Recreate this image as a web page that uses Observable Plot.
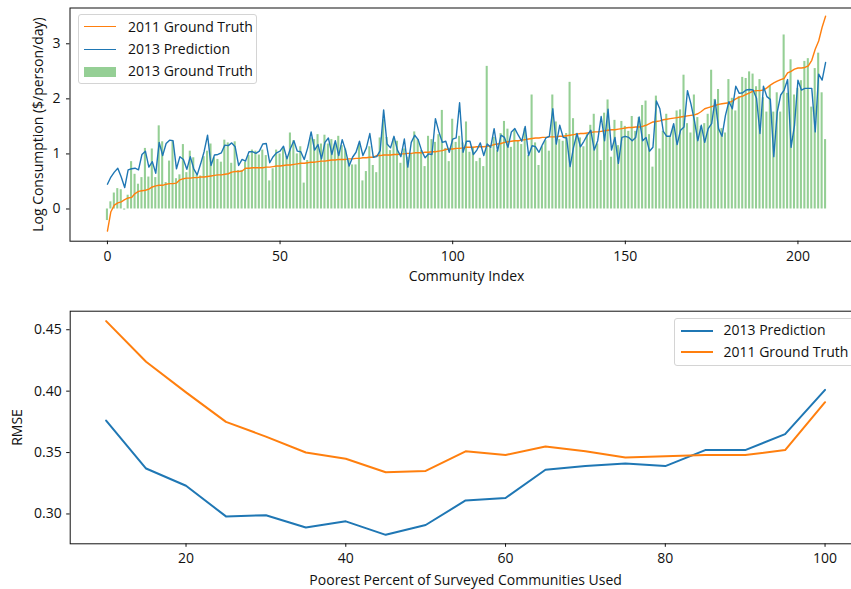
<!DOCTYPE html>
<html><head><meta charset="utf-8">
<script src="https://cdn.jsdelivr.net/npm/d3@7"></script>
<script src="https://cdn.jsdelivr.net/npm/@observablehq/plot@0.6"></script>
<style>
body{margin:0;background:#fff;overflow:hidden;font-family:"Open Sans",sans-serif;}
#wrap{position:relative;width:851px;height:589px;overflow:hidden;background:#fff;}
#wrap svg{display:block;max-width:none !important;}
.legend{position:absolute;background:rgba(255,255,255,0.85);border:1px solid #d4d4d4;border-radius:3px;font-size:14px;color:#111;box-sizing:border-box;}
.legend .s{position:absolute;height:0;}
.legend .p{position:absolute;}
.legend .t{position:absolute;line-height:18px;white-space:nowrap;}
</style></head>
<body><div id="wrap"><div id="topDiv"></div><div id="botDiv"></div></div>
<script>
// ---- Top chart data: communities 0..208 ----
const gt2011 = [-0.40,-0.05,0.07,0.11,0.13,0.17,0.20,0.21,0.28,0.32,0.33,0.34,0.36,0.40,0.42,0.43,0.43,0.45,0.46,0.46,
0.47,0.53,0.55,0.56,0.56,0.57,0.57,0.58,0.58,0.59,0.60,0.61,0.62,0.62,0.63,0.64,0.67,0.68,0.68,0.69,
0.74,0.74,0.75,0.75,0.75,0.75,0.76,0.76,0.77,0.78,0.78,0.79,0.80,0.80,0.81,0.82,0.83,0.83,0.84,0.85,
0.85,0.86,0.87,0.87,0.88,0.89,0.89,0.90,0.90,0.90,0.91,0.91,0.92,0.92,0.93,0.93,0.94,0.94,0.97,0.97,
0.98,0.98,0.98,0.99,0.99,1.00,1.00,1.01,1.01,1.02,1.02,1.02,1.03,1.03,1.04,1.04,1.05,1.06,1.08,1.09,
1.09,1.10,1.10,1.11,1.12,1.12,1.12,1.13,1.13,1.13,1.14,1.15,1.17,1.18,1.19,1.21,1.22,1.23,1.24,1.24,
1.25,1.26,1.27,1.28,1.29,1.29,1.30,1.30,1.31,1.31,1.31,1.32,1.32,1.33,1.34,1.35,1.36,1.37,1.37,1.38,
1.39,1.40,1.40,1.41,1.42,1.43,1.44,1.44,1.45,1.46,1.47,1.48,1.48,1.49,1.49,1.50,1.52,1.55,1.58,1.59,
1.60,1.62,1.63,1.64,1.65,1.66,1.67,1.68,1.69,1.70,1.71,1.73,1.77,1.82,1.84,1.86,1.88,1.90,1.91,1.92,
1.93,1.96,2.00,2.03,2.05,2.08,2.11,2.14,2.15,2.15,2.16,2.20,2.25,2.29,2.32,2.35,2.37,2.47,2.50,2.54,
2.56,2.56,2.57,2.60,2.70,2.90,3.05,3.30,3.50];
const pred2013 = [0.45,0.58,0.67,0.74,0.58,0.39,0.71,0.73,0.74,0.71,0.99,1.05,0.76,0.86,0.65,1.21,0.97,1.19,1.25,1.24,
0.73,0.95,0.90,0.72,0.95,0.73,0.62,0.82,1.04,1.34,0.79,0.98,0.99,1.02,1.16,1.15,1.20,1.13,0.79,0.90,
0.87,1.04,1.04,1.01,1.05,1.18,1.19,0.84,0.95,1.02,1.05,1.14,0.91,1.10,1.24,1.05,1.04,0.90,1.11,1.40,
1.07,1.17,0.91,1.21,1.29,0.99,1.24,0.97,1.26,1.06,0.78,0.94,1.03,1.23,0.97,1.11,1.37,0.94,0.95,1.06,
1.80,1.18,1.11,1.32,1.07,0.95,1.27,0.76,1.21,1.34,1.26,1.06,0.93,1.00,0.99,1.64,1.40,1.21,1.23,1.03,
1.27,1.29,1.93,1.03,1.23,1.23,0.99,1.07,1.20,0.97,1.18,1.12,1.46,1.05,1.34,1.30,1.12,1.40,1.46,1.34,
1.23,1.50,0.97,1.15,1.13,1.03,1.17,1.29,1.32,1.82,1.18,1.52,1.30,1.29,0.77,1.12,1.37,1.13,1.23,1.34,
1.43,1.07,1.24,1.68,1.24,1.81,1.07,1.30,0.83,1.30,1.32,1.30,1.24,1.30,1.67,1.24,1.30,1.05,1.12,1.96,
1.82,1.41,1.32,1.32,1.55,1.17,1.43,1.49,2.15,1.91,1.61,1.24,1.52,1.21,1.46,1.55,1.98,1.46,1.32,1.70,
1.95,1.82,2.23,2.10,2.11,2.16,2.17,2.16,2.01,1.37,2.23,2.04,1.99,0.95,1.76,2.07,2.16,2.35,1.12,1.52,
2.34,2.16,2.19,2.19,2.19,1.40,2.45,2.34,2.66];
const gt2013 = [-0.21,0.13,0.29,0.37,0.35,-0.02,0.25,0.86,0.63,0.45,0.57,1.10,0.58,1.09,0.57,1.51,1.22,0.48,0.87,1.22,
0.55,0.62,1.17,0.66,1.05,0.93,0.62,0.60,0.95,1.05,1.18,0.93,0.90,0.85,1.25,1.20,0.83,1.22,0.70,0.70,
0.85,0.97,1.07,1.05,0.98,1.07,0.97,0.51,0.73,1.07,1.00,1.10,0.95,1.38,1.24,1.00,1.13,0.47,0.88,1.29,
1.26,1.35,1.18,1.34,1.18,1.26,1.18,1.32,1.15,1.09,0.88,0.80,0.80,1.18,0.51,0.68,1.13,0.79,0.66,1.29,
1.62,1.30,1.06,1.27,1.23,0.83,1.09,0.94,0.99,1.40,1.26,1.06,0.77,1.32,1.26,1.21,1.35,1.79,1.10,0.86,
1.63,1.21,1.32,1.20,1.58,1.03,1.12,0.86,0.92,0.77,2.59,1.12,1.30,1.06,1.37,1.59,1.45,1.12,1.43,1.24,
1.17,1.46,0.97,2.07,1.20,0.79,1.13,1.24,1.05,2.07,1.58,1.26,1.23,1.37,2.30,1.64,1.37,1.29,1.13,1.35,
1.52,1.72,1.18,0.88,1.74,1.98,0.94,1.61,1.15,1.59,1.50,1.41,1.68,1.41,1.66,1.88,1.96,1.35,0.76,2.05,
1.09,1.41,1.72,1.30,1.49,1.78,1.80,2.43,1.55,1.38,2.07,1.66,1.50,1.55,1.72,2.52,1.99,2.17,1.46,1.38,
2.35,2.01,1.78,2.04,2.39,2.37,2.49,2.45,2.22,2.35,2.02,1.76,2.23,1.76,2.11,1.76,3.16,2.10,2.71,2.07,
2.19,2.33,2.68,2.73,1.85,2.55,2.83,2.11,1.26];
const topXTicks = [0, 50, 100, 150, 200];
const topYTicks = [0, 1, 2, 3];

// ---- Bottom chart data ----
const poorestPercent = [10,15,20,25,30,35,40,45,50,55,60,65,70,75,80,85,90,95,100];
const rmsePred2013 = [0.376,0.337,0.323,0.298,0.299,0.289,0.294,0.283,0.291,0.311,0.313,0.336,0.339,0.341,0.339,0.352,0.352,0.365,0.401];
const rmseGT2011 = [0.457,0.424,0.399,0.375,0.363,0.350,0.345,0.334,0.335,0.351,0.348,0.355,0.351,0.346,0.347,0.348,0.348,0.352,0.391];
const botXTicks = [20, 40, 60, 80, 100];
const botYTicks = [0.30, 0.35, 0.40, 0.45];

const BLUE = "#1f77b4", ORANGE = "#ff7f0e", GREEN = "#95cf95", INK = "#111";
const FONT = "Open Sans";
const STYLE = {fontFamily: FONT, fontSize: "14px", color: INK, background: "white", overflow: "visible", maxWidth: "none"};

const idx = gt2013.map((_, i) => i);
const topChart = Plot.plot({
  width: 863, height: 290,
  marginTop: 7.5, marginBottom: 49.3, marginLeft: 69.5, marginRight: 0.5,
  style: STYLE,
  x: {domain: [-10.84, 218.84], ticks: topXTicks, tickSize: 3.5, tickPadding: 6, label: null},
  y: {domain: [-0.585, 3.65], ticks: topYTicks, tickFormat: "d", tickSize: 3.5, tickPadding: 6, label: null},
  marks: [
    Plot.rect(idx, {x1: i => i - 0.3, x2: i => i + 0.3, y1: 0, y2: i => gt2013[i], fill: GREEN}),
    Plot.line(idx, {x: i => i, y: i => gt2011[i], stroke: ORANGE, strokeWidth: 1.4}),
    Plot.line(idx, {x: i => i, y: i => pred2013[i], stroke: BLUE, strokeWidth: 1.4}),
    Plot.frame({stroke: INK, strokeWidth: 1}),
    Plot.text(["Log Consumption ($/person/day)"], {frameAnchor: "left", dx: -31, rotate: -90, textAnchor: "middle", lineAnchor: "middle", fontSize: 14, fill: INK}),
    Plot.text(["Community Index"], {frameAnchor: "bottom", dy: 35.5, textAnchor: "middle", lineAnchor: "middle", fontSize: 14, fill: INK})
  ]
});
document.getElementById("topDiv").appendChild(topChart);

const botChart = Plot.plot({
  width: 861, height: 299,
  marginTop: 20.7, marginBottom: 45.7, marginLeft: 69.7, marginRight: 0.5,
  style: STYLE,
  x: {domain: [5.5, 104.5], ticks: botXTicks, tickSize: 3.5, tickPadding: 6, label: null},
  y: {domain: [0.2757, 0.4651], ticks: botYTicks, tickFormat: ".2f", tickSize: 3.5, tickPadding: 5, label: null},
  marks: [
    Plot.line(poorestPercent, {x: d => d, y: (d, i) => rmsePred2013[i], stroke: BLUE, strokeWidth: 2}),
    Plot.line(poorestPercent, {x: d => d, y: (d, i) => rmseGT2011[i], stroke: ORANGE, strokeWidth: 2}),
    Plot.frame({stroke: INK, strokeWidth: 1}),
    Plot.text(["RMSE"], {frameAnchor: "left", dx: -53, rotate: -90, textAnchor: "middle", lineAnchor: "middle", fontSize: 14, fill: INK}),
    Plot.text(["Poorest Percent of Surveyed Communities Used"], {frameAnchor: "bottom", dy: 36.7, textAnchor: "middle", lineAnchor: "middle", fontSize: 14, fill: INK})
  ]
});
document.getElementById("botDiv").appendChild(botChart);

// ---- Legends ----
function legend(box, items) {
  const el = document.createElement("div");
  el.className = "legend";
  Object.assign(el.style, {left: box.left + "px", top: box.top + "px", width: box.width + "px", height: box.height + "px"});
  items.forEach((it, k) => {
    const cy = box.rows[k];
    if (it.type === "line") {
      const s = document.createElement("div");
      s.className = "s";
      Object.assign(s.style, {left: box.sx + "px", width: box.sw + "px", top: (cy - it.w / 2) + "px", borderTop: it.w + "px solid " + it.color});
      el.appendChild(s);
    } else {
      const p = document.createElement("div");
      p.className = "p";
      Object.assign(p.style, {left: box.sx + "px", width: box.sw + "px", top: (cy - 5) + "px", height: "10px", background: it.color});
      el.appendChild(p);
    }
    const t = document.createElement("div");
    t.className = "t";
    t.textContent = it.label;
    Object.assign(t.style, {left: box.tx + "px", top: (cy - 9.5) + "px"});
    el.appendChild(t);
  });
  document.getElementById("wrap").appendChild(el);
}
legend({left: 78, top: 14, width: 179, height: 70, rows: [12.2, 34.5, 56.8], sx: 5, sw: 32, tx: 49},
  [{type: "line", color: ORANGE, w: 1.5, label: "2011 Ground Truth"},
   {type: "line", color: BLUE, w: 1.5, label: "2013 Prediction"},
   {type: "patch", color: GREEN, label: "2013 Ground Truth"}]);
legend({left: 673.5, top: 318, width: 190, height: 48, rows: [11.5, 33.2], sx: 6.5, sw: 31.5, tx: 49},
  [{type: "line", color: BLUE, w: 2, label: "2013 Prediction"},
   {type: "line", color: ORANGE, w: 2, label: "2011 Ground Truth"}]);
</script>
</body></html>
